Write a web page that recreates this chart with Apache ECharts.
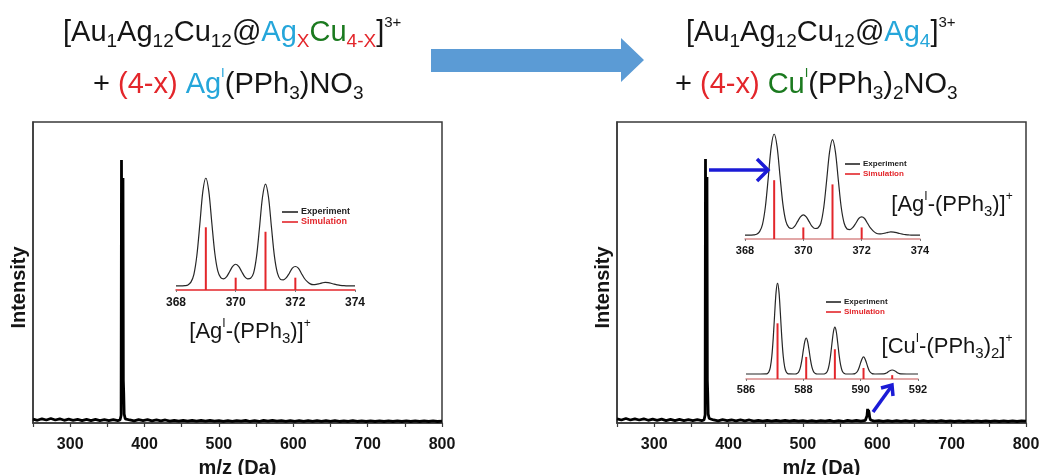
<!DOCTYPE html>
<html>
<head>
<meta charset="utf-8">
<script src="https://cdn.jsdelivr.net/npm/echarts@6/dist/echarts.min.js"></script>
<style>
  html, body { margin: 0; padding: 0; background: #fff; }
  #chart { width: 1043px; height: 475px; }
</style>
</head>
<body>
<div id="chart"></div>
<script>
const FONT = '"Liberation Sans", Arial, Helvetica, sans-serif';

// Full-range ESI-MS traces: [m/z, relative intensity]
const leftSpectrum = [
  [250, 1.3], [256, 0.9], [262, 1.4], [268, 1.0], [274, 1.5], [280, 1.0], [286, 1.4], [292, 0.9],
  [298, 1.3], [304, 0.9], [310, 1.2], [316, 0.8], [322, 1.2], [328, 0.8], [334, 1.2], [340, 0.8],
  [346, 1.1], [352, 0.8], [358, 1.1], [364, 0.8], [367, 1.0],
  [368.5, 2.5], [369, 87.4], [369.6, 28], [370.2, 12], [370.6, 30], [371, 81.4], [371.5, 14],
  [372, 10], [372.6, 3], [374, 1.4], [380, 1.0], [386, 0.7], [392, 1.1], [398, 0.8], [404, 1.1],
  [410, 0.7], [416, 1.0], [422, 0.7], [428, 1.0], [434, 0.6], [440, 0.9], [446, 0.6], [452, 0.9],
  [458, 0.6], [464, 0.9], [470, 0.6], [476, 0.9], [482, 0.6], [488, 0.9], [494, 0.6], [500, 0.8],
  [506, 0.5], [512, 0.8], [518, 0.5], [524, 0.8], [530, 0.6], [536, 0.9], [542, 0.5], [548, 0.8],
  [554, 0.5], [560, 0.9], [566, 0.6], [572, 0.9], [578, 0.6], [584, 0.8], [590, 0.5], [596, 0.8],
  [602, 0.5], [608, 0.8], [614, 0.5], [620, 0.8], [626, 0.5], [632, 0.8], [638, 0.5], [644, 0.8],
  [650, 0.5], [656, 0.8], [662, 0.5], [668, 0.7], [674, 0.5], [680, 0.8], [686, 0.5], [692, 0.7],
  [698, 0.5], [704, 0.7], [710, 0.5], [716, 0.7], [722, 0.5], [728, 0.7], [734, 0.5], [740, 0.7],
  [746, 0.5], [752, 0.7], [758, 0.5], [764, 0.7], [770, 0.5], [776, 0.7], [782, 0.5], [788, 0.7],
  [794, 0.5], [800, 0.6]
];
const rightSpectrum = [
  [250, 1.4], [256, 1.0], [262, 1.5], [268, 1.0], [274, 1.4], [280, 1.0], [286, 1.4], [292, 0.9],
  [298, 1.3], [304, 0.9], [310, 1.3], [316, 0.8], [322, 1.2], [328, 0.8], [334, 1.2], [340, 0.8],
  [346, 1.1], [352, 0.8], [358, 1.1], [364, 0.8], [367, 1.0],
  [368.5, 2.6], [369, 87.7], [369.6, 28], [370.2, 12], [370.6, 30], [371, 81.7], [371.5, 14],
  [372, 10], [372.6, 3], [374, 1.5], [380, 1.0], [386, 0.7], [392, 1.1], [398, 0.8], [404, 1.0],
  [410, 0.7], [416, 1.0], [422, 0.7], [428, 1.0], [434, 0.6], [440, 0.9], [446, 0.6], [452, 0.9],
  [458, 0.6], [464, 0.9], [470, 0.6], [476, 0.9], [482, 0.6], [488, 0.9], [494, 0.6], [500, 0.8],
  [506, 0.5], [512, 0.8], [518, 0.5], [524, 0.8], [530, 0.6], [536, 0.9], [542, 0.5], [548, 0.8],
  [554, 0.5], [560, 0.9], [566, 0.6], [572, 0.9], [578, 0.6], [584, 0.9], [586.2, 2.4], [587, 4.7],
  [587.6, 2.2], [588.2, 4.3], [589, 3.4], [589.8, 1.8], [591, 1.0], [596, 0.6], [602, 0.8],
  [608, 0.5], [614, 0.8], [620, 0.5], [626, 0.8], [632, 0.5], [638, 0.8], [644, 0.5], [650, 0.8],
  [656, 0.5], [662, 0.8], [668, 0.5], [674, 0.7], [680, 0.5], [686, 0.8], [692, 0.5], [698, 0.7],
  [704, 0.5], [710, 0.7], [716, 0.5], [722, 0.7], [728, 0.5], [734, 0.7], [740, 0.5], [746, 0.7],
  [752, 0.5], [758, 0.7], [764, 0.5], [770, 0.7], [776, 0.5], [782, 0.7], [788, 0.5], [794, 0.7],
  [800, 0.6]
];
const mainTickLabels = [300, 400, 500, 600, 700, 800];

// [Ag(PPh3)]+ isotope envelope, measured profile sampled every 0.1 from m/z 368
const agExpStart = 368, agExpStep = 0.1;
const agExpInt = [
  3.6, 3.6, 3.7, 3.9, 4.5, 7, 14, 31, 59, 88,
  100, 88, 60, 33, 17, 11, 10, 12, 16.5, 21,
  23, 21, 16.5, 12, 10, 10.5, 15, 30, 56, 83,
  94.6, 83, 56, 30, 15, 9.5, 9, 11, 15, 19.5,
  21, 19.5, 15, 10.5, 7.5, 5.5, 4.8, 5, 5.6, 6.3,
  6.8, 6.6, 6, 5.2, 4.6, 4.1, 3.9, 3.7, 3.6, 3.6,
  3.6
];
const agSimMz = [369, 370, 371, 372];
const agSimInt = [56, 11, 52, 11];
const agTicks = [368, 370, 372, 374];

// [Cu(PPh3)2]+ isotope envelope: [m/z, intensity]
const cuExp = [
  [586.0, 5.2], [586.5, 5.2], [586.7, 5.3], [586.75, 5.8], [586.8, 7.5], [586.85, 12.4], [586.9, 23.4],
  [586.95, 42.6], [587.0, 68], [587.05, 90.7], [587.1, 100], [587.15, 90.7], [587.2, 68], [587.25, 42.6],
  [587.3, 23.4], [587.35, 12.4], [587.4, 7.5], [587.45, 5.8], [587.5, 5.3],
  [587.7, 5.2], [587.75, 5.4], [587.8, 6.1], [587.85, 8.1], [587.9, 12.4], [587.95, 20], [588.0, 30],
  [588.05, 39], [588.1, 42.7], [588.15, 39], [588.2, 30], [588.25, 20], [588.3, 12.4], [588.35, 8.1],
  [588.4, 6.1], [588.45, 5.4], [588.5, 5.2],
  [588.7, 5.2], [588.75, 5.5], [588.8, 6.4], [588.85, 8.9], [588.9, 14.6], [588.95, 24.5], [589.0, 37.5],
  [589.05, 49.2], [589.1, 54], [589.15, 49.2], [589.2, 37.5], [589.25, 24.5], [589.3, 14.6], [589.35, 8.9],
  [589.4, 6.4], [589.45, 5.5], [589.5, 5.2],
  [589.7, 5.2], [589.75, 5.3], [589.8, 5.6], [589.85, 6.6], [589.9, 8.6], [589.95, 12.2], [590.0, 17],
  [590.05, 21.2], [590.1, 23], [590.15, 21.2], [590.2, 17], [590.25, 12.2], [590.3, 8.6], [590.35, 6.6],
  [590.4, 5.6], [590.45, 5.3], [590.5, 5.2],
  [590.8, 5.3], [590.9, 6.2], [591.0, 8.4], [591.1, 9.4], [591.2, 8.4], [591.3, 6.2], [591.4, 5.3],
  [591.6, 5.2], [592.0, 5.2]
];
const cuSimMz = [587.1, 588.1, 589.1, 590.1, 591.1];
const cuSimInt = [58, 23, 31, 11.5, 4];
const cuTicks = [586, 588, 590, 592];

const INK = '#151515';
const FRAME = '#3a3a3a';
const SIM_RED = '#e3262b';
const AG_BLUE = '#25a6da';
const CU_GREEN = '#1b7a1f';
const TXT_RED = '#e3262b';
const ARROW_BLUE = '#1b1bd6';

// ---------- rich text styles for the formulas (zrender text props) ----------
function richSet(size, sub, sup, lh) {
  const set = {};
  const colors = { k: INK, a: AG_BLUE, g: CU_GREEN, r: TXT_RED };
  Object.keys(colors).forEach(key => {
    const c = colors[key];
    set[key] = { fontSize: size, lineHeight: lh, fill: c, fontFamily: FONT };
    set[key + 's'] = { fontSize: sub, lineHeight: Math.round(sub * 1.05), verticalAlign: 'bottom', fill: c, fontFamily: FONT };
    set[key + 'p'] = { fontSize: sup, lineHeight: Math.round(sup * 1.2), verticalAlign: 'top', fill: c, fontFamily: FONT };
  });
  return set;
}
const titleRich = richSet(29, 19, 15, 36);
const title2Rich = richSet(29, 19, 13, 36);
const capRich = richSet(22, 15, 12, 28);

function formula(x, y, text, rich, align) {
  return {
    type: 'text', x: x, y: y, z: 20,
    style: { text: text, rich: rich, align: align || 'left', verticalAlign: 'top', fontFamily: FONT, fill: INK }
  };
}

// ---------- axes ----------
function mainX(gi) {
  return {
    gridIndex: gi, type: 'value', min: 250, max: 800, interval: 50,
    axisLine: { show: true, onZero: false, lineStyle: { color: FRAME, width: 1.5 } },
    axisTick: { show: true, length: 4, lineStyle: { color: FRAME, width: 1.2 } },
    axisLabel: {
      margin: 14, fontSize: 16, fontWeight: 'bold', color: INK, fontFamily: FONT,
      formatter: v => (mainTickLabels.indexOf(v) >= 0 ? String(v) : '')
    },
    splitLine: { show: false },
    name: 'm/z (Da)', nameLocation: 'middle', nameGap: 35,
    nameTextStyle: { fontSize: 20, fontWeight: 'bold', color: INK, fontFamily: FONT }
  };
}
function mainY(gi) {
  return {
    gridIndex: gi, type: 'value', min: 0, max: 100,
    axisLine: { show: true, lineStyle: { color: FRAME, width: 1.5 } },
    axisTick: { show: false }, axisLabel: { show: false }, splitLine: { show: false },
    name: 'Intensity', nameLocation: 'middle', nameGap: 4, nameRotate: 90,
    nameTextStyle: { fontSize: 20, fontWeight: 'bold', color: INK, fontFamily: FONT, padding: [0, 30, 0, 0] }
  };
}
function insetX(gi, ticks, fontSize, margin, lineColor) {
  return {
    gridIndex: gi, type: 'value', min: ticks[0], max: ticks[ticks.length - 1], interval: ticks[1] - ticks[0],
    axisLine: { show: true, onZero: false, lineStyle: { color: lineColor, width: 1.5 } },
    axisTick: { show: true, length: 2, lineStyle: { color: '#777', width: 1 } },
    axisLabel: { margin: margin, fontSize: fontSize, fontWeight: 'bold', color: INK, fontFamily: FONT },
    splitLine: { show: false }
  };
}
function insetY(gi) {
  return { gridIndex: gi, type: 'value', min: 0, max: 100, show: false };
}

function expSeries(gi, data) {
  return {
    type: 'line', name: 'Experiment', xAxisIndex: gi, yAxisIndex: gi, data: data,
    smooth: 0.3, showSymbol: false, symbol: 'none', z: 4,
    lineStyle: { color: '#262626', width: 1.2 }, itemStyle: { color: '#262626' }
  };
}
function simSeries(gi, mz, inten) {
  return {
    type: 'bar', name: 'Simulation', xAxisIndex: gi, yAxisIndex: gi,
    data: mz.map((m, i) => [m, inten[i]]), barWidth: 2, z: 3,
    itemStyle: { color: SIM_RED }
  };
}
function insetLegend(left, top, fontSize, lineW) {
  return {
    left: left, top: top, orient: 'vertical', icon: 'rect',
    itemWidth: lineW, itemHeight: 1.6, itemGap: 0, padding: 0, selectedMode: false,
    data: [{ name: 'Experiment' }, { name: 'Simulation', textStyle: { color: SIM_RED } }],
    textStyle: { fontSize: fontSize, fontWeight: 'bold', color: '#222', fontFamily: FONT, lineHeight: 10, padding: [0, 0, 0, -2] }
  };
}

const agExp = agExpInt.map((v, i) => [+(agExpStart + i * agExpStep).toFixed(1), v]);

function grid(left, top, width, height, framed) {
  const g = { left: left, top: top, width: width, height: height, outerBoundsMode: 'none', containLabel: false };
  if (framed) Object.assign(g, { show: true, borderColor: FRAME, borderWidth: 1.5, backgroundColor: 'transparent' });
  return g;
}

const option = {
  animation: false,
  backgroundColor: '#ffffff',
  textStyle: { fontFamily: FONT },
  grid: [
    grid(33, 122, 409, 301, true),
    grid(617, 122, 409, 301, true),
    grid(176, 178, 179, 112),
    grid(745, 134, 175, 105),
    grid(746, 283, 172, 96)
  ],
  xAxis: [
    mainX(0), mainX(1),
    insetX(2, agTicks, 12, 7, SIM_RED),
    insetX(3, agTicks, 11, 6, '#d98a8a'),
    insetX(4, cuTicks, 11, 5, '#d98a8a')
  ],
  yAxis: [mainY(0), mainY(1), insetY(2), insetY(3), insetY(4)],
  legend: [
    insetLegend(282, 207, 9, 16),
    insetLegend(845, 159, 8, 15),
    insetLegend(826, 297, 8, 15)
  ],
  series: [
    { type: 'line', name: 'MS left', xAxisIndex: 0, yAxisIndex: 0, data: leftSpectrum, showSymbol: false, symbol: 'none',
      lineStyle: { color: '#000', width: 2.8 }, itemStyle: { color: '#000' } },
    { type: 'line', name: 'MS right', xAxisIndex: 1, yAxisIndex: 1, data: rightSpectrum, showSymbol: false, symbol: 'none',
      lineStyle: { color: '#000', width: 2.8 }, itemStyle: { color: '#000' } },
    expSeries(2, agExp), simSeries(2, agSimMz, agSimInt),
    expSeries(3, agExp), simSeries(3, agSimMz, agSimInt),
    expSeries(4, cuExp), simSeries(4, cuSimMz, cuSimInt)
  ],
  graphic: [
    // reaction formulas
    formula(63, 15, '{k|[Au}{ks|1}{k|Ag}{ks|12}{k|Cu}{ks|12}{k|@}{a|Ag}{rs|X}{g|Cu}{rs|4-X}{k|]}{kp|3+}', titleRich),
    formula(93, 67, '{k|+ }{r|(4-x)}{k| }{a|Ag}{ap|I}{k|(PPh}{ks|3}{k|)NO}{ks|3}', title2Rich),
    formula(686, 15, '{k|[Au}{ks|1}{k|Ag}{ks|12}{k|Cu}{ks|12}{k|@}{a|Ag}{as|4}{k|]}{kp|3+}', titleRich),
    formula(675, 67, '{k|+ }{r|(4-x)}{k| }{g|Cu}{gp|I}{k|(PPh}{ks|3}{k|)}{ks|2}{k|NO}{ks|3}', title2Rich),
    // species labels next to the insets
    formula(250, 318, '{k|[Ag}{kp|I}{k|-(PPh}{ks|3}{k|)]}{kp|+}', capRich, 'center'),
    formula(952, 191, '{k|[Ag}{kp|I}{k|-(PPh}{ks|3}{k|)]}{kp|+}', capRich, 'center'),
    formula(947, 333, '{k|[Cu}{kp|I}{k|-(PPh}{ks|3}{k|)}{ks|2}{k|]}{kp|+}', capRich, 'center'),
    // reaction arrow
    {
      type: 'polygon', z: 10,
      shape: { points: [[431, 49], [621, 49], [621, 38], [644, 60], [621, 82], [621, 72], [431, 72]] },
      style: { fill: '#5b9bd5' }
    },
    // pointers from the peaks to their zoomed envelopes
    { type: 'polyline', z: 15, shape: { points: [[709, 170], [766, 170]] },
      style: { stroke: ARROW_BLUE, lineWidth: 3.5, fill: null } },
    { type: 'polyline', z: 15, shape: { points: [[757, 159], [768, 170], [757, 181]] },
      style: { stroke: ARROW_BLUE, lineWidth: 3.5, fill: null, lineJoin: 'miter' } },
    { type: 'polyline', z: 15, shape: { points: [[873, 412], [891, 387]] },
      style: { stroke: ARROW_BLUE, lineWidth: 3.5, fill: null } },
    { type: 'polyline', z: 15, shape: { points: [[881, 388], [892, 385], [893, 396]] },
      style: { stroke: ARROW_BLUE, lineWidth: 3.5, fill: null, lineJoin: 'miter' } }
  ]
};

const chart = echarts.init(document.getElementById('chart'), null, { renderer: 'canvas' });
chart.setOption(option);
</script>
</body>
</html>
